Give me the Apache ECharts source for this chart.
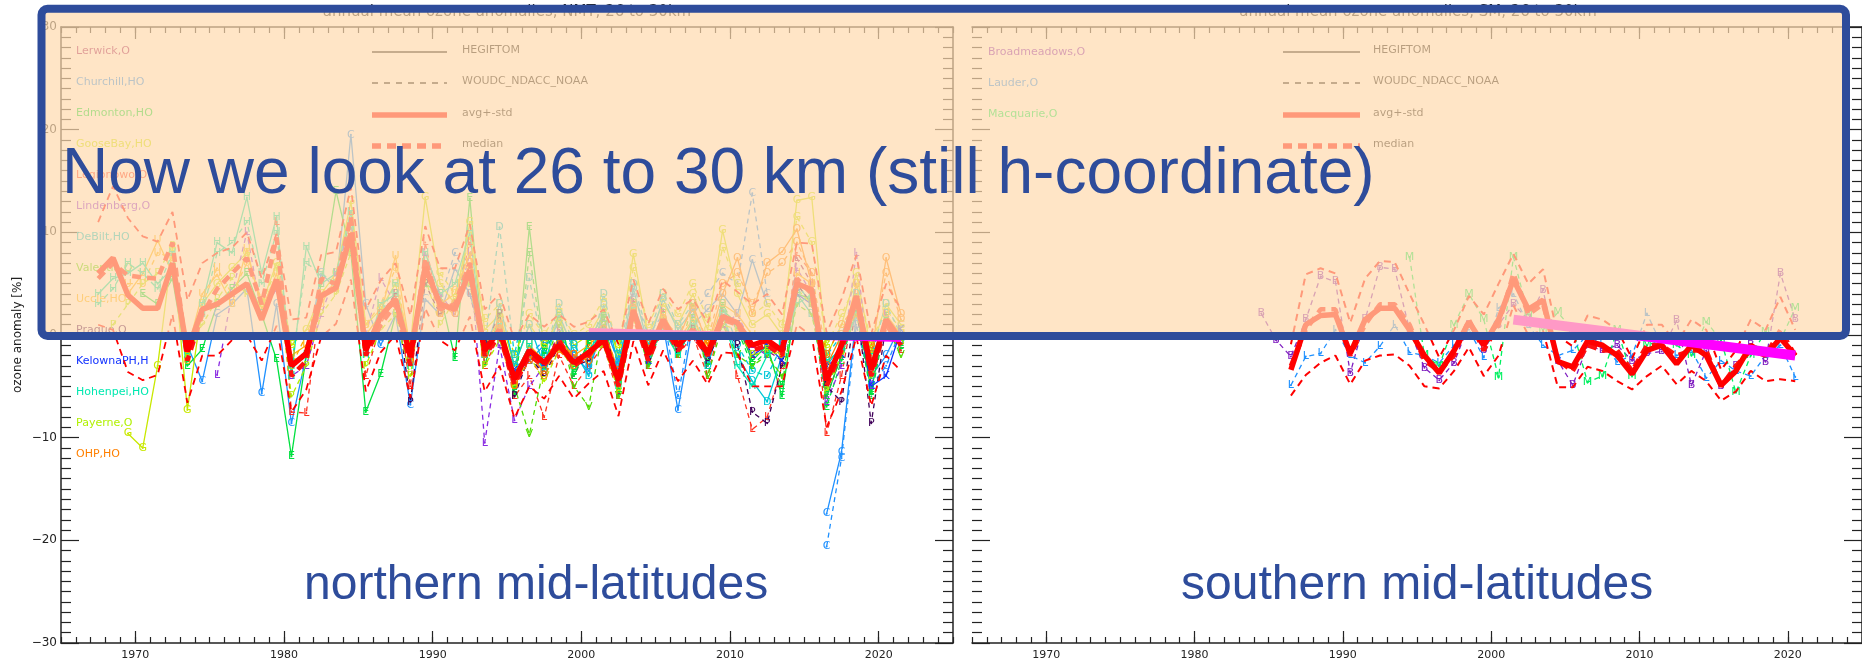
<!DOCTYPE html>
<html><head><meta charset="utf-8">
<script src="https://cdn.jsdelivr.net/npm/echarts@6/dist/echarts.min.js"></script>
<style>html,body{margin:0;padding:0;background:#fff}#c{width:1862px;height:661px}</style>
</head><body><div id="c"></div>
<script>
// ---------------- DATA ----------------
const xTickLabels = [1970, 1980, 1990, 2000, 2010, 2020];
const yTickValues = [-30, -20, -10, 0, 10, 20, 30];
const nmTitle = 'annual mean ozone anomalies, NMT, 26 to 30km';
const smTitle = 'annual mean ozone anomalies, SM, 26 to 30km';
const nmStationNames = ['Lerwick,O','Churchill,HO','Edmonton,HO','GooseBay,HO','Legionowo,O','Lindenberg,O','DeBilt,HO','Valentia,O','Uccle,HO','Prague,O','KelownaPH,H','Hohenpei,HO','Payerne,O','OHP,HO'];
const smStationNames = ['Broadmeadows,O','Lauder,O','Macquarie,O'];
const legendNames = ['HEGIFTOM','WOUDC_NDACC_NOAA','avg+-std','median'];

// NM aggregate (annual, first year 1967)
const nmAggStart = 1967;
const nmAvg = [6.0,7.5,3.9,2.6,2.6,7.0,-1.6,2.5,3.0,4.0, 5.0,1.5,5.4,-3.0,-1.8,3.8,4.6,9.9,-1.5,1.8, 3.5,-2.1,6.6,3.0,2.5,6.3,-1.5,0.5,-4.3,-1.5, -2.7,-1.0,-2.7,-1.7,-0.5,-4.4,2.4,-1.9,1.5,-1.0, 0.5,-1.8,1.8,1.2,-1.0,-0.5,-1.5,5.0,4.4,-4.4, -1.0,3.8,-3.4,1.5,-0.5];
const nmMedian = [5.5,7.0,5.8,5.6,5.5,9.0,-2.5,2.0,4.5,6.0, 7.5,3.0,9.5,-4.0,-2.5,5.5,5.0,11.5,-2.0,1.0, 3.0,-3.0,7.5,2.5,3.0,7.0,-2.0,0.0,-4.8,-2.0, -3.0,-0.5,-3.0,-2.0,0.0,-5.0,2.0,-2.5,1.0,-1.5, 0.0,-2.0,1.5,1.0,-1.5,-1.0,-2.0,5.5,4.0,-5.0, -1.5,3.5,-4.0,1.0,-1.0];
const nmStd = [5.0,7.0,7.5,7.0,6.5,5.0,5.0,4.5,5.0,4.5, 5.0,4.0,4.5,4.5,3.5,4.0,3.5,4.5,4.0,3.5, 3.5,4.0,4.0,3.5,4.0,4.5,4.0,3.5,3.8,3.5, 3.5,3.0,3.5,3.0,3.0,3.5,3.0,3.0,3.0,3.5, 3.0,3.0,3.5,3.0,4.0,4.5,3.5,4.0,4.5,4.6, 4.5,4.0,3.5,3.5,3.0];
const nmTrendYears = [2000, 2021];
const nmTrendValues = [0.4, -0.4];

// NM stations (H = HEGIFTOM solid, O = WOUDC/NDACC/NOAA dashed)
const lerwickOStart = 1992;
const lerwickO = [4.0,-2.0,1.0,-5.0,-2.5,-3.5,0.5,-4.0,-1.0,1.5,-5.5,3.5,-3.0,2.5,-2.0,1.0,-3.0,2.5,0.5,-2.0,-1.5,-2.5,7.5,5.0,-6.0,-2.0,5.0,-3.0,2.0,-1.0];
const churchillHStart = 1973;
const churchillH = [-1.0,-4.5,2.0,3.0,4.5,-5.7,3.0,-8.6,-2.0,6.0, 4.5,19.5,3.0,-1.0,2.0,-6.8,3.5,2.0,6.5,4.0, -1.0,0.0,-3.0,-2.5,-1.0,0.0,-2.0,-3.5,1.0,-2.5, 3.0,-1.0,1.0,-7.3,1.0,2.5,4.0,2.0,7.3,3.0, null,null,null,-17.4,-11.4,2.0,-4.0,-2.0,1.0];
const churchillOStart = 1990;
const churchillO = [3.5,8.0,5.0,-2.0,1.0,-4.0,-2.0,-0.5,1.0,-1.5, -3.0,2.0,-3.0,4.0,0.0,2.0,-6.0,2.0,4.0,6.0, 5.0,13.8,4.0,null,null,null,-20.6,-12.0,1.0,-5.0, -3.0,0.5];
const edmontonHStart = 1970;
const edmontonH = [4.0,3.0,5.5,-3.0,-1.4,3.0,4.5,6.0,2.0,-2.4, -11.8,-2.0,5.0,14.0,8.0,-7.5,-3.8,2.0,-1.0,5.0, 4.0,-2.3,13.3,-3.0,2.0,-5.5,10.5,-1.5,2.0,-4.0, -0.5,2.0,-6.0,3.0,-2.5,2.0,-1.5,1.5,-3.0,2.5, 1.0,-2.5,-1.0,-6.0,4.0,3.5,-6.0,-2.0,3.0,-5.5, 2.0,-1.0];
const edmontonOStart = 1995;
const edmontonO = [-6.0,8.0,-2.0,1.5,-3.5,-1.0,1.5,-5.0,2.5,-3.0, 1.0,-2.0,1.0,-2.5,3.0,0.5,-3.0,-1.5,-5.0,5.0, 3.0,-7.0,-2.5,2.5,-6.0,1.5,-1.5];
const gooseBayHStart = 1969;
const gooseBayH = [-9.6,-11.0,-3.0,8.5,-7.3,3.0,5.0,6.5,8.0,3.0, 7.0,-1.0,0.5,4.0,6.0,13.0,1.0,2.5,5.0,-1.0, 13.4,5.0,3.0,11.0,0.5,2.0,-3.0,1.0,-1.0,1.5, -1.0,0.0,2.5,-2.0,7.9,0.0,3.0,1.0,4.0,0.5, 10.2,4.0,1.0,2.0,0.0,13.1,13.4,-2.0,1.0,6.0, -1.5,3.0,1.0];
const gooseBayOStart = 1990;
const gooseBayO = [6.0,4.0,9.5,1.5,3.0,-2.0,2.0,0.0,2.5,0.0, 1.0,3.5,-1.0,6.5,1.0,4.0,2.0,5.0,1.5,8.5, 5.0,2.0,3.0,1.0,11.5,9.0,-1.0,2.0,5.0,-0.5, 2.5,0.5];
const legionowoOStart = 1979;
const legionowoO = [11.0,-7.5,-7.6,4.0,5.0,12.0,-4.0,1.0,4.0,-5.0, 9.0,2.0,3.0,9.0,-3.0,0.0,-6.0,-4.0,-8.0,-2.0, -5.0,-3.0,-1.0,-6.0,3.0,-3.0,2.0,-2.0,0.0,-4.0, 2.0,-4.0,-9.2,-8.0,-3.0,8.0,6.0,-9.6,-4.0,4.0, -3.0,2.0,-1.5];
const lindenbergOStart = 1975;
const lindenbergO = [-3.9,4.0,10.0,2.0,4.5,-4.0,-3.0,2.0,6.0,11.0, 0.0,5.5,3.0,-2.0,8.0,4.0,2.0,8.0,-10.5,-1.0, -8.3,-5.0,-3.0,-1.0,-2.0,-2.0,0.0,-4.0,3.0,-2.0, 1.0,-1.0,0.0,-2.0,1.0,2.0,-1.0,-2.0,-1.0,6.5, 4.0,-6.5,-3.0,8.0,-5.0,2.0,-0.5];
const deBiltHStart = 1993;
const deBiltH = [-2.0,3.0,-3.0,1.0,-3.0,2.0,-1.5,-4.0,3.0,-3.0, 4.5,-1.0,3.5,0.5,2.5,-3.0,2.0,-2.0,-4.5,-6.5, -2.0,4.0,2.0,-3.0,-1.0,3.0,-3.0,2.0,-0.5];
const deBiltOStart = 1993;
const deBiltO = [-1.0,10.5,-2.0,5.5,-2.0,3.0,-1.0,-3.0,4.0,-2.0, 5.0,0.0,4.0,1.0,3.0,-2.0,3.0,-1.0,-3.5,-4.0, -1.0,5.0,3.0,-2.0,0.0,4.0,-2.0,3.0,0.0];
const valentiaOStart = 1994;
const valentiaO = [2.0,-5.0,-9.7,-3.0,1.0,-5.0,-7.0,1.0,-6.0,2.0, -3.0,1.0,-2.0,3.0,-4.0,1.0,-2.0,-3.0,-2.0,-4.0, 3.0,2.0,-5.0,-2.0,2.0,-4.0,1.0,-2.0];
const uccleHStart = 1969;
const uccleH = [4.0,6.0,9.2,6.0,-1.5,4.0,5.9,3.0,8.4,2.5, 6.0,-2.0,-1.0,3.0,5.5,9.0,0.0,2.0,7.7,-1.5, 7.0,3.0,4.0,8.0,-1.0,1.5,-4.0,-1.0,-2.5,-0.5, -2.0,-1.0,0.5,-3.5,3.0,-2.0,2.0,-0.5,1.5,-1.0, 3.0,2.0,0.0,-1.0,-2.0,6.0,5.0,-4.0,-1.0,5.0, -3.0,2.0,0.0];
const uccleOStart = 1969;
const uccleO = [5.0,5.0,8.0,7.5,-2.5,3.0,6.5,4.0,7.0,3.5, 5.0,-3.0,0.0,4.0,4.5,10.0,1.0,3.0,6.5,-2.5, 6.0,2.0,5.0,7.0,-2.0,1.0,-5.0];
const pragueOStart = 1986;
const pragueO = [2.0,4.0,-6.5,5.0,2.0,3.0,6.0, -1.0,2.0,-6.0,-2.0,-4.0,-1.0,-3.0,-2.5,0.5,-4.0, 2.0,-2.5,1.0,-1.5,0.5,-2.5,1.0,-1.0,-7.5,-8.6, -3.0,5.0,3.0,-5.0,-6.5,3.0,-8.6,1.0,-1.0];
const kelownaHStart = 1994;
const kelownaH = [0.0,-3.5,-2.0,-3.0,-1.0,-2.5,-2.0,-0.5,-4.0,2.0, -2.5,1.0,-1.0,0.0,-2.0,1.5,1.0,-2.0,-1.0,-2.5, 4.0,3.0,-3.0,-2.0,3.0,-5.0,-4.0,0.5];
const hohenpeiHStart = 1967;
const hohenpeiH = [4.0,5.5,6.0,7.0,5.0,6.5,-2.0,3.0,9.0,8.0, 13.4,6.0,11.5,-4.0,8.6,5.0,6.0,12.0,-2.0,3.0, 4.0,-3.0,8.0,4.0,5.0,10.0,-2.0,1.0,-4.0,-1.0, -3.5,-0.5,-3.0,-1.5,0.5,-5.0,2.5,-2.0,0.5,-2.0, 1.0,-1.5,2.0,-3.0,-5.0,-2.0,-1.0,3.0,4.0,-2.5, -1.5,2.0,-2.0,1.0,-0.5];
const hohenpeiOStart = 1967;
const hohenpeiO = [3.0,4.5,7.0,6.0,4.5,8.0,-1.0,2.0,8.0,9.0, 11.0,5.0,10.0,-3.0,7.0,6.0,5.0,10.5,-1.0,2.0, 5.0,-2.0,7.0,3.0];
const payerneOStart = 1968;
const payerneO = [1.0,3.0,5.0,6.0,8.7,-2.0,1.0,3.5,5.5,4.0, 3.0,6.5,-6.0,-3.0,2.0,4.0,8.0,-3.0,0.5,2.0, -4.0,5.5,1.0,3.5,5.0,-3.0,-0.5,-5.0,-2.0,-4.5, -1.5,-3.0,-2.0,-1.0,-5.5,1.5,-2.0,1.5,-1.0,0.0, -2.0,1.0,0.5,-2.0,-1.5,-2.0,4.5,3.0,-5.5,-2.0, 3.5,-4.0,1.0,-1.0];
const ohpHStart = 1985;
const ohpH = [-1.0,2.0,3.0,-2.5,6.0,3.0,2.0,7.0,-1.5,1.0, -4.5,-2.0,-3.5,-1.0,-2.0,-2.5,0.0,-4.0,2.0,-1.5, 1.0,-0.5,3.0,-1.0,4.0,7.5,2.0,7.0,8.1,10.3, 5.0,-3.0,0.0,2.0,-2.0,7.5,2.0];
const ohpOStart = 1990;
const ohpO = [2.0,3.0,6.0,-2.0,0.5,-5.0,-2.5,-4.0,-1.5,-3.0, -2.0,0.5,-3.5,2.5,-1.0,1.5,0.0,2.5,-0.5,5.0, 6.0,3.0,6.0,7.0,9.0,6.0,-2.0,1.0,3.0,-1.0, 6.0,1.5];

// SM aggregate (first year 1986)
const smAggStart = 1986;
const smAvg = [-3.4,1.0,1.9,2.0,-1.8,1.5,2.6,2.6,0.5,-2.0, -3.7,-1.5,1.3,-1.0,1.5,5.4,2.5,3.4,-2.6,-3.1, -0.6,-1.0,-2.0,-3.8,-1.5,-1.0,-2.8,-1.0,-2.0,-4.9, -3.5,-1.0,-2.0,-0.3,-2.0];
const smMedian = [-3.0,0.5,2.5,2.5,-2.0,1.0,3.0,3.0,1.0,-2.5, -3.5,-2.0,1.5,-1.5,1.0,6.0,2.0,3.0,-2.5,-3.5, -1.0,-1.5,-1.5,-3.5,-1.0,-1.0,-2.0,-1.5,-1.5,-5.0, -3.0,-1.5,-2.0,0.5,-2.0];
const smStd = [2.5,4.9,4.6,4.0,3.0,4.0,4.6,4.5,3.5,3.0, 1.5,2.0,2.5,3.0,3.5,2.5,2.5,3.0,2.5,2.0, 2.5,2.5,2.5,1.5,2.5,2.0,2.0,2.5,2.5,1.5, 2.0,2.5,2.5,4.0,2.5];
const smTrendYears = [2001, 2020];
const smTrendValues = [1.5, -2.0];

// SM stations (all O, dashed)
const broadmeadowsOStart = 1984;
const broadmeadowsO = [2.1,-0.5,-2.1,1.5,5.7,5.2,-3.7,1.5,6.6,6.4, 0.5,-3.2,-4.4,-2.7,1.0,-1.5,1.0,3.0,1.5,4.4, -2.5,-4.9,-1.0,-1.5,-1.0,-2.5,-1.8,-1.6,1.4,-4.9, -1.5,-5.0,-3.0,-1.0,-2.6,6.0,1.5];
const lauderOStart = 1986;
const lauderO = [-4.9,-2.1,-1.8,0.5,-2.0,-2.7,-1.1,1.0,-1.7,-2.0, -2.7,-1.0,0.5,-2.2,2.6,4.0,1.0,-1.0,-2.0,-1.5, 0.0,-1.0,-2.6,-2.0,2.1,-1.0,-2.0,-1.5,-4.2,-2.5, -3.5,-4.0,-2.0,-1.0,-4.1];
const macquarieOStart = 1994;
const macquarieO = [7.6,-2.0,-3.0,1.0,4.0,1.5,-4.1,7.6,2.0,0.5, 2.2,0.5,-4.6,-4.0,0.5,-4.0,-1.0,-0.5,-1.0,-2.0, 1.3,-0.5,-5.6,-2.0,0.3,-0.5,2.6];

// ---------------- STYLE TABLES ----------------
const NM_COL = {Lerwick:'#9A1A6A', Churchill:'#1E90FF', Edmonton:'#00E040', GooseBay:'#C8E800', Legionowo:'#FF3020', Lindenberg:'#8A2BE2', DeBilt:'#00C8D8', Valentia:'#50DC00', Uccle:'#FFB000', Prague:'#40005A', Kelowna:'#1030FF', Hohenpei:'#00E8B0', Payerne:'#B0F000', OHP:'#FF8000'};
const SM_COL = {Broadmeadows:'#8020C0', Lauder:'#1E90FF', Macquarie:'#00F060'};
const BLUE = '#2E4C9B';
const AX = '#222';
const FONT = 'DejaVu Sans';
const GRID_TOP = 27, GRID_H = 616, GRID_W = 892;
const NM_LEFT = 61, SM_LEFT = 972;
const X_PER_GRID = 4;

function pts(start, vals) {
  return vals.map((v, i) => [start + i + 0.5, v == null ? '-' : v]);
}
function band(start, a, s, sign) {
  return a.map((v, i) => [start + i + 0.5, +(v + sign * s[i]).toFixed(2)]);
}
function stn(start, vals, color, letter, dashed, g) {
  return {
    type: 'line', xAxisIndex: g * X_PER_GRID, yAxisIndex: g * 2, data: pts(start, vals),
    symbol: 'circle', symbolSize: 2, itemStyle: {color: color},
    lineStyle: {color: color, width: 1.3, type: dashed ? [5, 4] : 'solid'},
    label: {show: true, formatter: letter, position: 'inside', color: color, fontSize: 11, fontFamily: FONT},
    connectNulls: false, silent: true, z: 2, animation: false
  };
}
function agg(data, g, style, z) {
  return {type: 'line', xAxisIndex: g * X_PER_GRID, yAxisIndex: g * 2, data: data, symbol: 'none',
    lineStyle: style, silent: true, z: z, animation: false};
}

const series = [
  stn(lerwickOStart, lerwickO, NM_COL.Lerwick, 'L', true, 0),
  stn(churchillHStart, churchillH, NM_COL.Churchill, 'C', false, 0),
  stn(churchillOStart, churchillO, NM_COL.Churchill, 'C', true, 0),
  stn(edmontonHStart, edmontonH, NM_COL.Edmonton, 'E', false, 0),
  stn(edmontonOStart, edmontonO, NM_COL.Edmonton, 'E', true, 0),
  stn(gooseBayHStart, gooseBayH, NM_COL.GooseBay, 'G', false, 0),
  stn(gooseBayOStart, gooseBayO, NM_COL.GooseBay, 'G', true, 0),
  stn(legionowoOStart, legionowoO, NM_COL.Legionowo, 'L', true, 0),
  stn(lindenbergOStart, lindenbergO, NM_COL.Lindenberg, 'L', true, 0),
  stn(deBiltHStart, deBiltH, NM_COL.DeBilt, 'D', false, 0),
  stn(deBiltOStart, deBiltO, NM_COL.DeBilt, 'D', true, 0),
  stn(valentiaOStart, valentiaO, NM_COL.Valentia, 'V', true, 0),
  stn(uccleHStart, uccleH, NM_COL.Uccle, 'U', false, 0),
  stn(uccleOStart, uccleO, NM_COL.Uccle, 'U', true, 0),
  stn(pragueOStart, pragueO, NM_COL.Prague, 'P', true, 0),
  stn(kelownaHStart, kelownaH, NM_COL.Kelowna, 'K', false, 0),
  stn(hohenpeiHStart, hohenpeiH, NM_COL.Hohenpei, 'H', false, 0),
  stn(hohenpeiOStart, hohenpeiO, NM_COL.Hohenpei, 'H', true, 0),
  stn(payerneOStart, payerneO, NM_COL.Payerne, 'P', true, 0),
  stn(ohpHStart, ohpH, NM_COL.OHP, 'O', false, 0),
  stn(ohpOStart, ohpO, NM_COL.OHP, 'O', true, 0),
  agg(band(nmAggStart, nmAvg, nmStd, 1), 0, {color: '#FF0000', width: 1.8, type: [7, 5]}, 3),
  agg(band(nmAggStart, nmAvg, nmStd, -1), 0, {color: '#FF0000', width: 1.8, type: [7, 5]}, 3),
  agg(pts(nmAggStart, nmMedian), 0, {color: '#FF1010', width: 4.5, type: [9, 6]}, 4),
  agg(pts(nmAggStart, nmAvg), 0, {color: '#FF0000', width: 5.5}, 5),
  agg(nmTrendYears.map((y, i) => [y + 0.5, nmTrendValues[i]]), 0, {color: '#FF00FF', width: 6, cap: 'butt'}, 6),

  stn(broadmeadowsOStart, broadmeadowsO, SM_COL.Broadmeadows, 'B', true, 1),
  stn(lauderOStart, lauderO, SM_COL.Lauder, 'L', true, 1),
  stn(macquarieOStart, macquarieO, SM_COL.Macquarie, 'M', true, 1),
  agg(band(smAggStart, smAvg, smStd, 1), 1, {color: '#FF0000', width: 2, type: [7, 5]}, 3),
  agg(band(smAggStart, smAvg, smStd, -1), 1, {color: '#FF0000', width: 2, type: [7, 5]}, 3),
  agg(pts(smAggStart, smMedian), 1, {color: '#FF1010', width: 4.5, type: [9, 6]}, 4),
  agg(pts(smAggStart, smAvg), 1, {color: '#FF0000', width: 5.5}, 5),
  agg(smTrendYears.map((y, i) => [y + 0.5, smTrendValues[i]]), 1, {color: '#FF00FF', width: 10, cap: 'butt'}, 6)
];

// ---------------- AXES ----------------
function xMajor(g, pos, showLabel) {
  return {type: 'value', gridIndex: g, position: pos, min: 1965, max: 2025, interval: 5,
    axisLine: {show: true, onZero: false, lineStyle: {color: AX, width: 1.5}},
    axisTick: {show: true, inside: true, length: 12, customValues: xTickLabels, lineStyle: {color: AX, width: 1.2}},
    minorTick: {show: false}, splitLine: {show: false}, minorSplitLine: {show: false},
    axisLabel: {show: showLabel, customValues: xTickLabels, margin: 7, fontSize: 11, fontFamily: FONT, color: AX,
      formatter: v => String(v)}};
}
function xMinor(g, pos) {
  return {type: 'value', gridIndex: g, position: pos, min: 1965, max: 2025, interval: 1,
    axisLine: {show: false, onZero: false},
    axisTick: {show: true, inside: true, length: 6, lineStyle: {color: AX, width: 1.2}},
    minorTick: {show: false}, splitLine: {show: false}, axisLabel: {show: false}};
}
function yAx(g, pos, showLabel, showLine, name) {
  const o = {type: 'value', gridIndex: g, position: pos, min: yTickValues[0], max: yTickValues[yTickValues.length - 1], interval: 10,
    axisLine: {show: showLine, onZero: false, lineStyle: {color: AX, width: 1.5}},
    axisTick: {show: true, inside: true, length: 18, lineStyle: {color: AX, width: 1.2}},
    minorTick: {show: true, splitNumber: 10, length: 10, lineStyle: {color: AX, width: 1.2}},
    splitLine: {show: false}, minorSplitLine: {show: false},
    axisLabel: {show: showLabel, margin: 4, fontSize: 12, fontFamily: FONT, color: AX,
      formatter: v => v < 0 ? '\u2212' + (-v) : String(v)}};
  if (name) {
    o.name = name; o.nameLocation = 'middle'; o.nameGap = 37; o.nameRotate = 90;
    o.nameTextStyle = {fontSize: 12, fontFamily: FONT, color: AX};
  }
  return o;
}

// ---------------- GRAPHIC (legends, titles, overlay) ----------------
const g = [];
function txt(x, y, s, color, font, align, z) {
  g.push({type: 'text', x: x, y: y, z: z || 1, silent: true,
    style: {text: s, fill: color, font: font, textAlign: align || 'left', textVerticalAlign: 'middle'}});
}
function ln(x1, y1, x2, y2, color, w, dash, z) {
  g.push({type: 'line', z: z || 1, silent: true, shape: {x1: x1, y1: y1, x2: x2, y2: y2},
    style: {stroke: color, lineWidth: w, lineDash: dash || null}});
}
const nmNameColors = [NM_COL.Lerwick, NM_COL.Churchill, NM_COL.Edmonton, NM_COL.GooseBay, NM_COL.Legionowo, NM_COL.Lindenberg, NM_COL.DeBilt, NM_COL.Valentia, NM_COL.Uccle, NM_COL.Prague, NM_COL.Kelowna, NM_COL.Hohenpei, NM_COL.Payerne, NM_COL.OHP];
nmStationNames.forEach((n, i) => txt(76, 51 + 31 * i, n, nmNameColors[i], '11px "DejaVu Sans"'));
const smNameColors = [SM_COL.Broadmeadows, SM_COL.Lauder, SM_COL.Macquarie];
smStationNames.forEach((n, i) => txt(988, 52 + 31 * i, n, smNameColors[i], '11px "DejaVu Sans"'));
[[372, 447, 462], [1283, 1360, 1373]].forEach(p => {
  const ys = [52, 83, 115, 146];
  ln(p[0], ys[0], p[1], ys[0], '#000', 1.5);
  ln(p[0], ys[1], p[1], ys[1], '#000', 1.5, [6, 6]);
  ln(p[0], ys[2], p[1], ys[2], '#FF0000', 5.5);
  ln(p[0], ys[3], p[1], ys[3], '#FF0000', 5.5, [9, 6]);
  legendNames.forEach((n, i) => txt(p[2], ys[i] - 1.5, n, '#111', '11px "DejaVu Sans"'));
});
txt(507, 12, nmTitle, '#222', '15px "DejaVu Sans"', 'center');
txt(1418, 12, smTitle, '#222', '15px "DejaVu Sans"', 'center');

// overlay box
g.push({type: 'rect', z: 100, silent: true, shape: {x: 41.5, y: 8.7, width: 1804.5, height: 327.3, r: 6},
  style: {fill: 'rgba(255,218,174,0.7)', stroke: BLUE, lineWidth: 8}});
txt(62, 175, 'Now we look at 26 to 30 km (still h-coordinate)', BLUE, '64px "Liberation Sans", Arial, sans-serif', 'left', 101);
txt(304, 586, 'northern mid-latitudes', BLUE, '48px "Liberation Sans", Arial, sans-serif', 'left', 101);
txt(1181, 586, 'southern mid-latitudes', BLUE, '48px "Liberation Sans", Arial, sans-serif', 'left', 101);

const chart = echarts.init(document.getElementById('c'), null, {renderer: 'canvas'});
chart.setOption({
  animation: false,
  backgroundColor: '#ffffff',
  grid: [
    {left: NM_LEFT, top: GRID_TOP, width: GRID_W, height: GRID_H},
    {left: SM_LEFT, top: GRID_TOP, width: GRID_W, height: GRID_H}
  ],
  xAxis: [xMajor(0, 'bottom', true), xMinor(0, 'bottom'), xMajor(0, 'top', false), xMinor(0, 'top'),
          xMajor(1, 'bottom', true), xMinor(1, 'bottom'), xMajor(1, 'top', false), xMinor(1, 'top')],
  yAxis: [yAx(0, 'left', true, true, 'ozone anomaly [%]'), yAx(0, 'right', false, true), yAx(1, 'left', false, false), yAx(1, 'right', false, true)],
  series: series,
  graphic: {elements: g}
});
</script>
</body></html>
